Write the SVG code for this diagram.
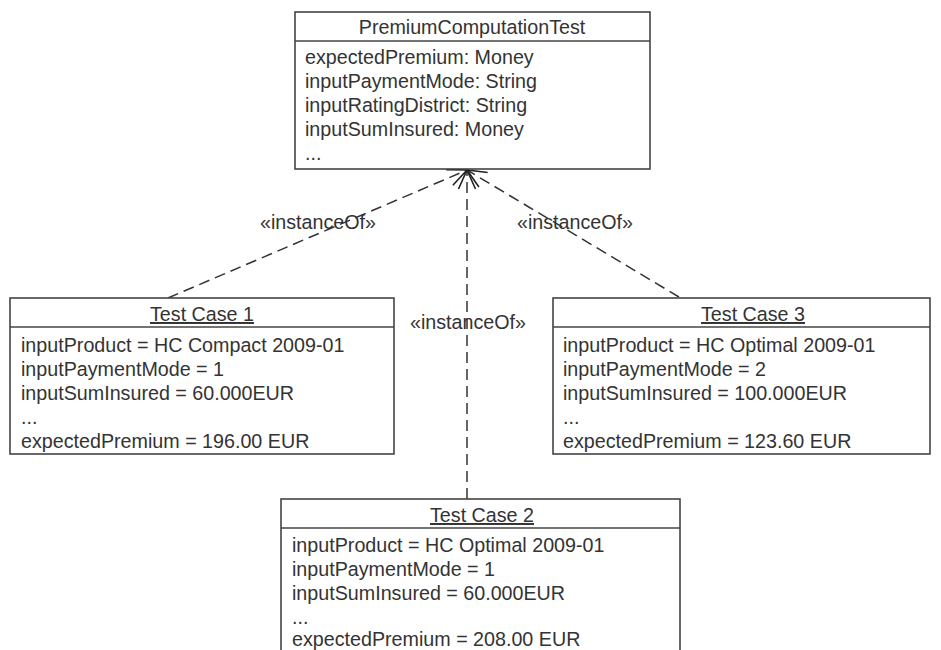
<svg xmlns="http://www.w3.org/2000/svg" width="941" height="650" viewBox="0 0 941 650">
<style>
.box{fill:#fff;stroke:#444;stroke-width:1.6}
.sep{stroke:#444;stroke-width:1.4}
text{font-family:"Liberation Sans",Arial,sans-serif;font-size:19.7px;fill:#333}
.ttl{text-anchor:middle}
.u{text-decoration:underline}
.lbl{text-anchor:middle}
.dep{fill:none;stroke:#333;stroke-width:1.5;stroke-dasharray:11 6}
</style>
<defs>
<marker id="open" markerUnits="userSpaceOnUse" markerWidth="40" markerHeight="40" refX="0" refY="0" orient="auto" overflow="visible">
<path d="M -19 -8.5 L 0 0 L -19 8.5" fill="none" stroke="#222" stroke-width="1.6"/>
</marker>
</defs>
<rect width="941" height="650" fill="#fff"/>

<g id="connectors">
<line class="dep" x1="168" y1="298" x2="467" y2="170" marker-end="url(#open)"/>
<line class="dep" x1="467" y1="499" x2="467" y2="170" marker-end="url(#open)"/>
<line class="dep" x1="679" y1="297" x2="467" y2="170" marker-end="url(#open)"/>
<text class="lbl" x="318" y="229">«instanceOf»</text>
<text class="lbl" x="575" y="229">«instanceOf»</text>
<text class="lbl" x="468" y="329">«instanceOf»</text>
</g>

<g id="PremiumComputationTest">
<rect class="box" x="295" y="12" width="355" height="157"/>
<line class="sep" x1="295" y1="41" x2="650" y2="41"/>
<text class="ttl" x="472" y="34">PremiumComputationTest</text>
<text x="305" y="64">expectedPremium: Money</text>
<text x="305" y="88">inputPaymentMode: String</text>
<text x="305" y="112">inputRatingDistrict: String</text>
<text x="305" y="136">inputSumInsured: Money</text>
<text x="305" y="160">...</text>
</g>

<g id="TestCase1">
<rect class="box" x="10" y="298" width="384" height="156"/>
<line class="sep" x1="10" y1="327" x2="394" y2="327"/>
<text class="ttl u" x="202" y="321">Test Case 1</text>
<text x="21" y="352">inputProduct = HC Compact 2009-01</text>
<text x="21" y="376">inputPaymentMode = 1</text>
<text x="21" y="400">inputSumInsured = 60.000EUR</text>
<text x="21" y="424">...</text>
<text x="21" y="448">expectedPremium = 196.00 EUR</text>
</g>

<g id="TestCase3">
<rect class="box" x="553" y="298" width="377" height="156"/>
<line class="sep" x1="553" y1="327" x2="930" y2="327"/>
<text class="ttl u" x="753" y="321">Test Case 3</text>
<text x="563" y="352">inputProduct = HC Optimal 2009-01</text>
<text x="563" y="376">inputPaymentMode = 2</text>
<text x="563" y="400">inputSumInsured = 100.000EUR</text>
<text x="563" y="424">...</text>
<text x="563" y="448">expectedPremium = 123.60 EUR</text>
</g>

<g id="TestCase2">
<rect class="box" x="281" y="499" width="399" height="170"/>
<line class="sep" x1="281" y1="528" x2="680" y2="528"/>
<text class="ttl u" x="482" y="522">Test Case 2</text>
<text x="292" y="552">inputProduct = HC Optimal 2009-01</text>
<text x="292" y="576">inputPaymentMode = 1</text>
<text x="292" y="600">inputSumInsured = 60.000EUR</text>
<text x="292" y="624">...</text>
<text x="292" y="646">expectedPremium = 208.00 EUR</text>
</g>
</svg>
